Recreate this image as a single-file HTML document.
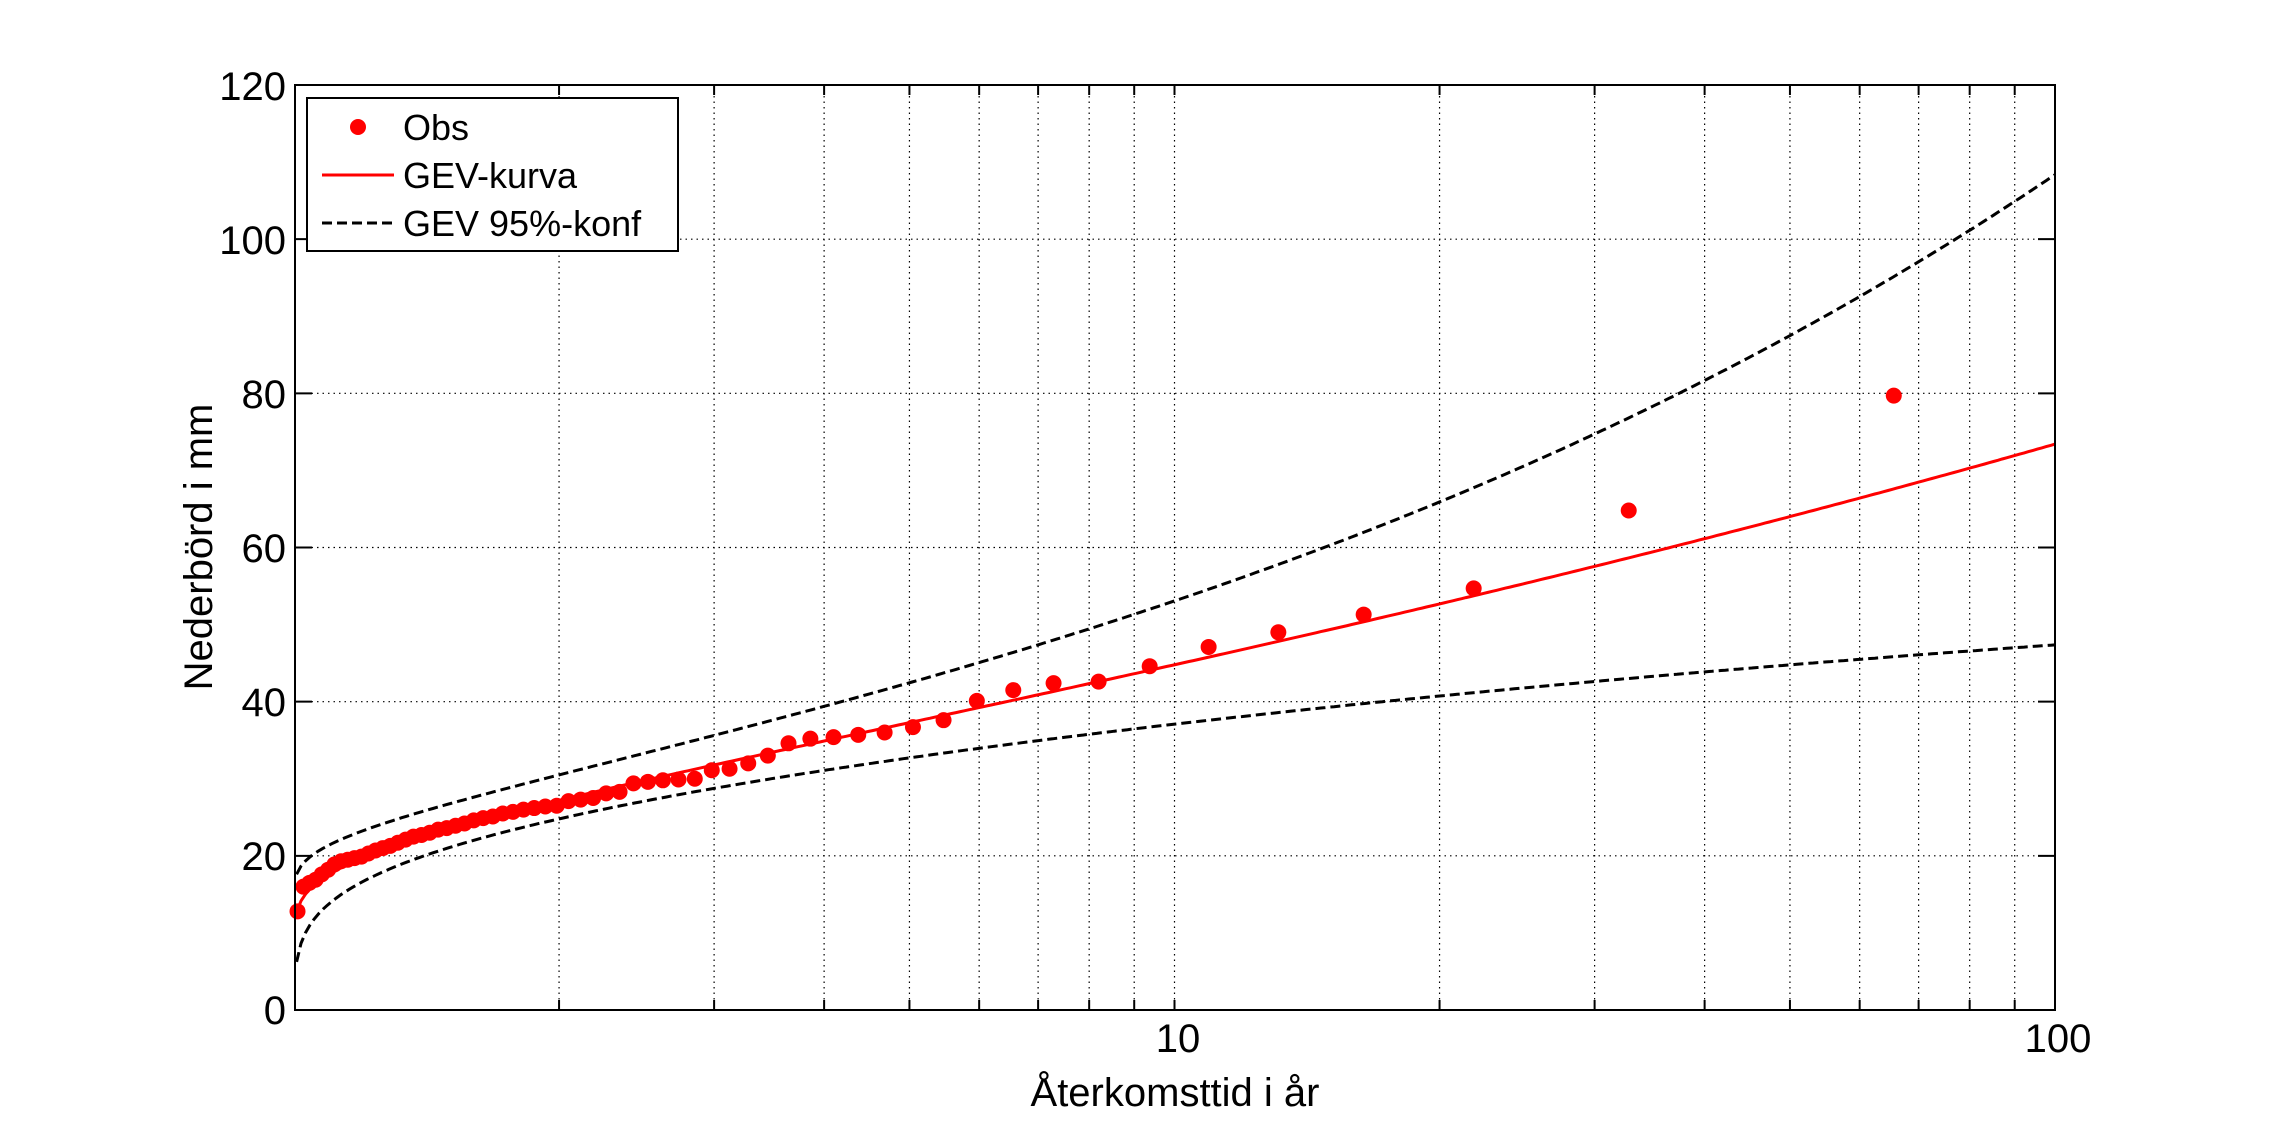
<!DOCTYPE html>
<html><head><meta charset="utf-8"><style>
html,body{margin:0;padding:0;background:#fff;}
svg{display:block;font-family:"Liberation Sans",Arial,sans-serif;}
</style></head><body>
<svg id="s" width="2271" height="1135" viewBox="0 0 2271 1135" xmlns="http://www.w3.org/2000/svg">
<rect width="2271" height="1135" fill="#fff"/>
<g id="grid"></g>
<g id="series"></g>
<rect x="295" y="85" width="1760" height="925" fill="none" stroke="#000" stroke-width="2"/>
<g id="ticks"></g>
<g font-size="40" fill="#000" text-anchor="end">
<text x="286" y="1024">0</text>
<text x="286" y="870">20</text>
<text x="286" y="716">40</text>
<text x="286" y="562">60</text>
<text x="286" y="408">80</text>
<text x="286" y="254">100</text>
<text x="286" y="100">120</text>
</g>
<g font-size="40" fill="#000" text-anchor="middle">
<text x="1178" y="1052">10</text>
<text x="2058" y="1052">100</text>
<text x="1175" y="1106">Återkomsttid i år</text>
<text transform="translate(212,547) rotate(-90)">Nederbörd i mm</text>
</g>
<rect x="307" y="98" width="371" height="153" fill="#fff" stroke="#000" stroke-width="2"/>
<circle cx="358" cy="127" r="8" fill="#f00"/>
<line x1="322" y1="175" x2="394" y2="175" stroke="#f00" stroke-width="3"/>
<line x1="322" y1="223" x2="394" y2="223" stroke="#000" stroke-width="3" stroke-dasharray="10,5"/>
<g font-size="36" fill="#000">
<text x="403" y="140">Obs</text>
<text x="403" y="188">GEV-kurva</text>
<text x="403" y="236">GEV 95%-konf</text>
</g>
</svg>
<script>
var L=295,R=2055,T0=85,B=1010,D=880.5,X0=294;
function X(t){return X0+D*Math.log10(t);}
function Y(v){return B-v*(925/120);}
var NS="http://www.w3.org/2000/svg";
function el(p,n,a){var e=document.createElementNS(NS,n);for(var k in a)e.setAttribute(k,a[k]);p.appendChild(e);return e;}
var g=document.getElementById('grid'),tk=document.getElementById('ticks'),se=document.getElementById('series');
var xs=[];
for(var d=1;d<=10;d*=10)for(var i=1;i<10;i++){var t=d*i;if(t>1&&t<100)xs.push(t);}
xs.forEach(function(t){var x=X(t);
 el(g,'line',{x1:x,y1:T0,x2:x,y2:B,stroke:'#000','stroke-width':1.2,'stroke-dasharray':'1.5,4'});
 el(tk,'line',{x1:x,y1:B,x2:x,y2:B-10,stroke:'#000','stroke-width':2});
 el(tk,'line',{x1:x,y1:T0,x2:x,y2:T0+10,stroke:'#000','stroke-width':2});});
for(var v=20;v<120;v+=20){var y=Y(v);
 el(g,'line',{x1:L,y1:y,x2:R,y2:y,stroke:'#000','stroke-width':1.2,'stroke-dasharray':'1.5,4'});
 el(tk,'line',{x1:L,y1:y,x2:L+17,y2:y,stroke:'#000','stroke-width':2});
 el(tk,'line',{x1:R,y1:y,x2:R-17,y2:y,stroke:'#000','stroke-width':2});}
function gev(mu,s,xi,t){var w=-Math.log(1-1/t);return mu+s*(Math.pow(w,-xi)-1)/xi;}
function path(mu,s,xi){var p='';for(var i=0;i<=400;i++){var lt=0.003+i*(2-0.003)/400;var t=Math.pow(10,lt);
 p+=(i?'L':'M')+X(t).toFixed(1)+','+Y(gev(mu,s,xi,t)).toFixed(1);}return p;}
el(se,'path',{d:path(27.46,7.82,0.315),fill:'none',stroke:'#000','stroke-width':3,'stroke-dasharray':'10,5'});
el(se,'path',{d:path(21.85,8.32,-0.19),fill:'none',stroke:'#000','stroke-width':3,'stroke-dasharray':'10,5'});
el(se,'path',{d:path(24.23,7.91,0.125),fill:'none',stroke:'#f00','stroke-width':3});
var vals=[79.7,64.8,54.7,51.3,49.0,47.1,44.6,42.6,42.4,41.5,40.1,37.6,36.7,36.0,35.7,35.4,35.2,34.6,33.0,32.0,31.3,31.1,30.0,29.9,29.8,29.6,29.4,28.3,28.1,27.5,27.3,27.1,26.5,26.4,26.2,26.0,25.7,25.5,25.1,24.9,24.6,24.2,23.9,23.6,23.4,23.0,22.7,22.5,22.1,21.7,21.3,21.0,20.7,20.3,19.9,19.7,19.5,19.3,18.9,18.2,17.6,16.9,16.5,16.0,12.8];
vals.forEach(function(v,i){var t=65.6/(i+1);el(se,'circle',{cx:X(t),cy:Y(v),r:8,fill:'#f00'});});
</script>
</body></html>
